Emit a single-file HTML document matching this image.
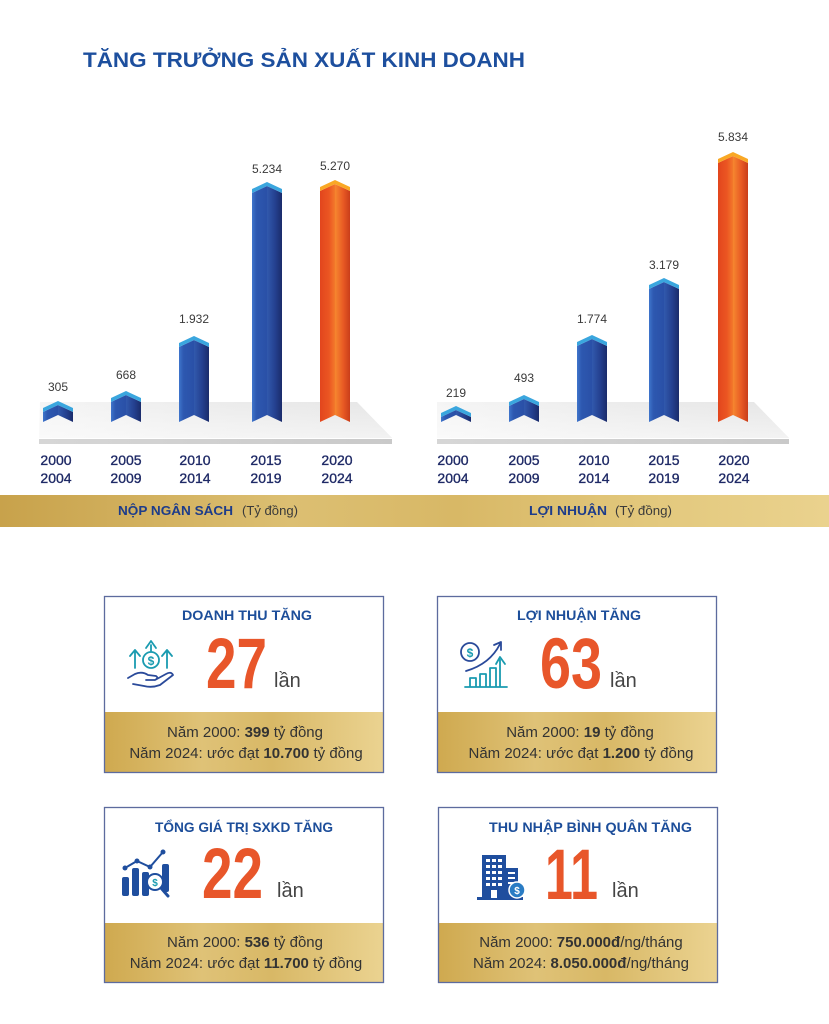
<!DOCTYPE html>
<html><head><meta charset="utf-8"><style>
html,body{margin:0;padding:0;background:#fff;}
svg{display:block;}
text{font-family:"Liberation Sans","Noto Sans CJK SC",sans-serif;}
</style></head><body>
<svg width="829" height="1024" viewBox="0 0 829 1024" xmlns="http://www.w3.org/2000/svg">
<defs>
<linearGradient id="bL" x1="0" y1="0" x2="1" y2="0"><stop offset="0" stop-color="#3f75cc"/><stop offset="0.3" stop-color="#2d58b0"/><stop offset="1" stop-color="#2a50a7"/></linearGradient>
<linearGradient id="bR" x1="0" y1="0" x2="1" y2="0"><stop offset="0" stop-color="#3159ad"/><stop offset="0.55" stop-color="#24408f"/><stop offset="1" stop-color="#1a2b6a"/></linearGradient>
<linearGradient id="oL" x1="0" y1="0" x2="1" y2="0"><stop offset="0" stop-color="#e2451d"/><stop offset="0.6" stop-color="#eb5622"/><stop offset="1" stop-color="#f3792b"/></linearGradient>
<linearGradient id="oR" x1="0" y1="0" x2="1" y2="0"><stop offset="0" stop-color="#f6872f"/><stop offset="0.55" stop-color="#e85a24"/><stop offset="1" stop-color="#c93d1a"/></linearGradient>
<linearGradient id="floor" x1="0" y1="0" x2="1" y2="0"><stop offset="0" stop-color="#f5f5f5"/><stop offset="0.5" stop-color="#ececec"/><stop offset="1" stop-color="#e6e6e6"/></linearGradient>
<linearGradient id="floorV" x1="0" y1="0" x2="0" y2="1"><stop offset="0" stop-color="#ffffff" stop-opacity="0"/><stop offset="1" stop-color="#ffffff" stop-opacity="0.5"/></linearGradient>
<linearGradient id="line" x1="0" y1="0" x2="1" y2="0"><stop offset="0" stop-color="#d6d6d6"/><stop offset="1" stop-color="#c9c9c9"/></linearGradient>
<linearGradient id="gold" x1="0" y1="0" x2="1" y2="0"><stop offset="0" stop-color="#c8a24b"/><stop offset="0.35" stop-color="#dcbf72"/><stop offset="0.55" stop-color="#d8b866"/><stop offset="0.8" stop-color="#e3c97e"/><stop offset="1" stop-color="#ead28e"/></linearGradient>
<linearGradient id="goldC" x1="0" y1="0" x2="1" y2="0"><stop offset="0" stop-color="#cfa94f"/><stop offset="0.35" stop-color="#dfc277"/><stop offset="0.6" stop-color="#d8b866"/><stop offset="1" stop-color="#ebd391"/></linearGradient>
</defs>
<rect width="829" height="1024" fill="#fff"/>

<!-- Title -->
<text x="83" y="67" font-size="21" font-weight="bold" fill="#1d4f9e" textLength="442" lengthAdjust="spacingAndGlyphs">TĂNG TRƯỞNG SẢN XUẤT KINH DOANH</text>

<!-- Left floor -->
<polygon points="40,402 357,402 392,438 39,438" fill="url(#floor)"/>
<polygon points="40,402 357,402 392,438 39,438" fill="url(#floorV)"/>
<rect x="39" y="439" width="353" height="5" fill="url(#line)"/>
<!-- Right floor -->
<polygon points="437,402 754,402 789,438 437,438" fill="url(#floor)"/>
<polygon points="437,402 754,402 789,438 437,438" fill="url(#floorV)"/>
<rect x="437" y="439" width="352" height="5" fill="url(#line)"/>

<!-- Left bars -->
<g>
<polygon points="43,412 58,405 58,415 43,422" fill="url(#bL)"/>
<polygon points="58,405 73,412 73,422 58,415" fill="url(#bR)"/>
<polygon points="43,408 58,401 73,408 73,412 58,405 43,412" fill="#3aa6de"/>

<polygon points="111,402 126,395 126,415 111,422" fill="url(#bL)"/>
<polygon points="126,395 141,402 141,422 126,415" fill="url(#bR)"/>
<polygon points="111,398 126,391 141,398 141,402 126,395 111,402" fill="#3aa6de"/>

<polygon points="179,347 194,340 194,415 179,422" fill="url(#bL)"/>
<polygon points="194,340 209,347 209,422 194,415" fill="url(#bR)"/>
<polygon points="179,343 194,336 209,343 209,347 194,340 179,347" fill="#3aa6de"/>

<polygon points="252,193 267,186 267,415 252,422" fill="url(#bL)"/>
<polygon points="267,186 282,193 282,422 267,415" fill="url(#bR)"/>
<polygon points="252,189 267,182 282,189 282,193 267,186 252,193" fill="#3aa6de"/>

<polygon points="320,191 335,184 335,415 320,422" fill="url(#oL)"/>
<polygon points="335,184 350,191 350,422 335,415" fill="url(#oR)"/>
<polygon points="320,187 335,180 350,187 350,191 335,184 320,191" fill="#f9a825"/>
</g>

<!-- Right bars -->
<g>
<polygon points="441,417 456,410 456,415 441,422" fill="url(#bL)"/>
<polygon points="456,410 471,417 471,422 456,415" fill="url(#bR)"/>
<polygon points="441,413 456,406 471,413 471,417 456,410 441,417" fill="#3aa6de"/>

<polygon points="509,406 524,399 524,415 509,422" fill="url(#bL)"/>
<polygon points="524,399 539,406 539,422 524,415" fill="url(#bR)"/>
<polygon points="509,402 524,395 539,402 539,406 524,399 509,406" fill="#3aa6de"/>

<polygon points="577,346 592,339 592,415 577,422" fill="url(#bL)"/>
<polygon points="592,339 607,346 607,422 592,415" fill="url(#bR)"/>
<polygon points="577,342 592,335 607,342 607,346 592,339 577,346" fill="#3aa6de"/>

<polygon points="649,289 664,282 664,415 649,422" fill="url(#bL)"/>
<polygon points="664,282 679,289 679,422 664,415" fill="url(#bR)"/>
<polygon points="649,285 664,278 679,285 679,289 664,282 649,289" fill="#3aa6de"/>

<polygon points="718,163 733,156 733,415 718,422" fill="url(#oL)"/>
<polygon points="733,156 748,163 748,422 733,415" fill="url(#oR)"/>
<polygon points="718,159 733,152 748,159 748,163 733,156 718,163" fill="#f9a825"/>
</g>

<!-- value labels -->
<g font-size="12" fill="#3a3a3a" text-anchor="middle">
<text x="58" y="391">305</text>
<text x="126" y="379">668</text>
<text x="194" y="323">1.932</text>
<text x="267" y="173">5.234</text>
<text x="335" y="170">5.270</text>
<text x="456" y="397">219</text>
<text x="524" y="382">493</text>
<text x="592" y="323">1.774</text>
<text x="664" y="269">3.179</text>
<text x="733" y="141">5.834</text>
</g>

<!-- year labels -->
<g font-size="14" fill="#1f2a66" stroke="#1f2a66" stroke-width="0.35" text-anchor="middle">
<text x="56" y="465">2000</text><text x="56" y="483">2004</text>
<text x="126" y="465">2005</text><text x="126" y="483">2009</text>
<text x="195" y="465">2010</text><text x="195" y="483">2014</text>
<text x="266" y="465">2015</text><text x="266" y="483">2019</text>
<text x="337" y="465">2020</text><text x="337" y="483">2024</text>
<text x="453" y="465">2000</text><text x="453" y="483">2004</text>
<text x="524" y="465">2005</text><text x="524" y="483">2009</text>
<text x="594" y="465">2010</text><text x="594" y="483">2014</text>
<text x="664" y="465">2015</text><text x="664" y="483">2019</text>
<text x="734" y="465">2020</text><text x="734" y="483">2024</text>
</g>

<!-- gold band -->
<rect x="0" y="495" width="829" height="32" fill="url(#gold)"/>
<text x="118" y="515" font-size="13" font-weight="bold" fill="#1d3c8a" textLength="115" lengthAdjust="spacingAndGlyphs">NỘP NGÂN SÁCH</text>
<text x="242" y="515" font-size="13" fill="#3a3a3a" textLength="56" lengthAdjust="spacingAndGlyphs">(Tỷ đồng)</text>
<text x="529" y="515" font-size="13" font-weight="bold" fill="#1d3c8a" textLength="78" lengthAdjust="spacingAndGlyphs">LỢI NHUẬN</text>
<text x="615" y="515" font-size="13" fill="#3a3a3a" textLength="57" lengthAdjust="spacingAndGlyphs">(Tỷ đồng)</text>

<!-- Cards -->
<!-- Card 1 -->
<rect x="104" y="712" width="280" height="61" fill="url(#goldC)"/>
<rect x="104.5" y="596.5" width="279" height="176" fill="none" stroke="#5d6b9e" stroke-width="1.3"/>
<text x="182" y="620" font-size="14" font-weight="bold" fill="#1d4e9a" textLength="130" lengthAdjust="spacingAndGlyphs">DOANH THU TĂNG</text>
<text x="206" y="688" font-size="71" font-weight="bold" fill="#e8562a" textLength="61" lengthAdjust="spacingAndGlyphs">27</text>
<text x="274" y="687" font-size="20" fill="#444">lần</text>
<g font-size="15" fill="#333" text-anchor="middle">
<text x="245" y="737">Năm 2000: <tspan font-weight="bold">399</tspan> tỷ đồng</text>
<text x="246" y="758">Năm 2024: ước đạt <tspan font-weight="bold">10.700</tspan> tỷ đồng</text>
</g>
<!-- icon 1 -->
<g fill="none" stroke-width="1.8" stroke-linecap="round" stroke-linejoin="round">
<circle cx="151" cy="660" r="8" stroke="#1a9bb0"/>
<text x="151" y="665" font-size="12" font-weight="bold" fill="#1a9bb0" stroke="none" text-anchor="middle">$</text>
<path d="M135 668 V652 M130 656 L135 650 L140 656" stroke="#1a9bb0"/>
<path d="M167 668 V652 M162 656 L167 650 L172 656" stroke="#1a9bb0"/>
<path d="M151 651 V645 M146 648 L151 641 L156 648" stroke="#1a9bb0"/>
<path d="M128 678 L135 674 Q142 671 148 675 L156 676 Q159 678 155 680 L146 680 M155 680 L166 674 Q171 671 173 675 L160 685 Q152 688 144 686 L133 684" stroke="#2a4a9a"/>
</g>

<!-- Card 2 -->
<rect x="437" y="712" width="280" height="61" fill="url(#goldC)"/>
<rect x="437.5" y="596.5" width="279" height="176" fill="none" stroke="#5d6b9e" stroke-width="1.3"/>
<text x="517" y="620" font-size="14" font-weight="bold" fill="#1d4e9a" textLength="124" lengthAdjust="spacingAndGlyphs">LỢI NHUẬN TĂNG</text>
<text x="540" y="688" font-size="71" font-weight="bold" fill="#e8562a" textLength="62" lengthAdjust="spacingAndGlyphs">63</text>
<text x="610" y="687" font-size="20" fill="#444">lần</text>
<g font-size="15" fill="#333" text-anchor="middle">
<text x="580" y="737">Năm 2000: <tspan font-weight="bold">19</tspan> tỷ đồng</text>
<text x="581" y="758">Năm 2024: ước đạt <tspan font-weight="bold">1.200</tspan> tỷ đồng</text>
</g>
<!-- icon 2 -->
<g fill="none" stroke-width="1.8" stroke-linecap="round" stroke-linejoin="round">
<circle cx="470" cy="652" r="9" stroke="#2a4a9a"/>
<text x="470" y="657" font-size="12" font-weight="bold" fill="#1a9bb0" stroke="none" text-anchor="middle">$</text>
<path d="M466 671 Q490 664 500 644 M494 645 L501 642 L501 650" stroke="#2a4a9a"/>
<path d="M470 687 V678 H476 V687 M480 687 V674 H486 V687 M490 687 V668 H496 V687 M500 687 V660 M496 664 L500 657 L505 664 M465 687 H507" stroke="#1a9bb0"/>
</g>

<!-- Card 3 -->
<rect x="104" y="923" width="280" height="60" fill="url(#goldC)"/>
<rect x="104.5" y="807.5" width="279" height="175" fill="none" stroke="#5d6b9e" stroke-width="1.3"/>
<text x="155" y="832" font-size="14" font-weight="bold" fill="#1d4e9a" textLength="178" lengthAdjust="spacingAndGlyphs">TỔNG GIÁ TRỊ SXKD TĂNG</text>
<text x="202" y="898" font-size="71" font-weight="bold" fill="#e8562a" textLength="61" lengthAdjust="spacingAndGlyphs">22</text>
<text x="277" y="897" font-size="20" fill="#444">lần</text>
<g font-size="15" fill="#333" text-anchor="middle">
<text x="245" y="947">Năm 2000: <tspan font-weight="bold">536</tspan> tỷ đồng</text>
<text x="246" y="968">Năm 2024: ước đạt <tspan font-weight="bold">11.700</tspan> tỷ đồng</text>
</g>
<!-- icon 3 -->
<g>
<rect x="122" y="877" width="7" height="19" rx="2" fill="#1f4e9e"/>
<rect x="132" y="868" width="7" height="28" rx="2" fill="#1f4e9e"/>
<rect x="142" y="872" width="7" height="24" rx="2" fill="#1f4e9e"/>
<rect x="162" y="864" width="7" height="28" rx="2" fill="#1f4e9e"/>
<polyline points="125,868 137,861 150,867 163,852" fill="none" stroke="#1f4e9e" stroke-width="2"/>
<circle cx="125" cy="868" r="2.5" fill="#1f4e9e"/><circle cx="137" cy="861" r="2.5" fill="#1f4e9e"/><circle cx="150" cy="867" r="2.5" fill="#1f4e9e"/><circle cx="163" cy="852" r="2.5" fill="#1f4e9e"/>
<circle cx="155" cy="882" r="8" fill="#fff" stroke="#1f4e9e" stroke-width="2"/>
<text x="155" y="886" font-size="10" font-weight="bold" fill="#1a9bb0" text-anchor="middle">$</text>
<path d="M161 888 L168 896" stroke="#1f4e9e" stroke-width="3" stroke-linecap="round"/>
</g>

<!-- Card 4 -->
<rect x="438" y="923" width="280" height="60" fill="url(#goldC)"/>
<rect x="438.5" y="807.5" width="279" height="175" fill="none" stroke="#5d6b9e" stroke-width="1.3"/>
<text x="489" y="832" font-size="14" font-weight="bold" fill="#1d4e9a" textLength="203" lengthAdjust="spacingAndGlyphs">THU NHẬP BÌNH QUÂN TĂNG</text>
<text x="545" y="899" font-size="71" font-weight="bold" fill="#e8562a" textLength="53" lengthAdjust="spacingAndGlyphs">11</text>
<text x="612" y="897" font-size="20" fill="#444">lần</text>
<g font-size="15" fill="#333" text-anchor="middle">
<text x="581" y="947">Năm 2000: <tspan font-weight="bold">750.000đ</tspan>/ng/tháng</text>
<text x="581" y="968">Năm 2024: <tspan font-weight="bold">8.050.000đ</tspan>/ng/tháng</text>
</g>
<!-- icon 4 -->
<g>
<rect x="505" y="868" width="13" height="30" fill="#1f4e9e"/>
<rect x="508" y="872" width="7" height="2" fill="#fff"/><rect x="508" y="877" width="7" height="2" fill="#fff"/><rect x="508" y="882" width="7" height="2" fill="#fff"/>
<rect x="482" y="855" width="24" height="43" fill="#1f4e9e"/>
<rect x="477" y="897" width="46" height="3" fill="#1f4e9e"/>
<g fill="#fff">
<rect x="486" y="859" width="4" height="3"/><rect x="492" y="859" width="4" height="3"/><rect x="498" y="859" width="4" height="3"/>
<rect x="486" y="865" width="4" height="3"/><rect x="492" y="865" width="4" height="3"/><rect x="498" y="865" width="4" height="3"/>
<rect x="486" y="871" width="4" height="3"/><rect x="492" y="871" width="4" height="3"/><rect x="498" y="871" width="4" height="3"/>
<rect x="486" y="877" width="4" height="3"/><rect x="492" y="877" width="4" height="3"/><rect x="498" y="877" width="4" height="3"/>
<rect x="486" y="883" width="4" height="3"/><rect x="492" y="883" width="4" height="3"/><rect x="498" y="883" width="4" height="3"/>
<rect x="491" y="890" width="6" height="8"/>
</g>
<circle cx="517" cy="890" r="8" fill="#2a7cc4" stroke="#fff" stroke-width="1.5"/>
<text x="517" y="894" font-size="10" font-weight="bold" fill="#fff" text-anchor="middle">$</text>
</g>
</svg>
</body></html>
